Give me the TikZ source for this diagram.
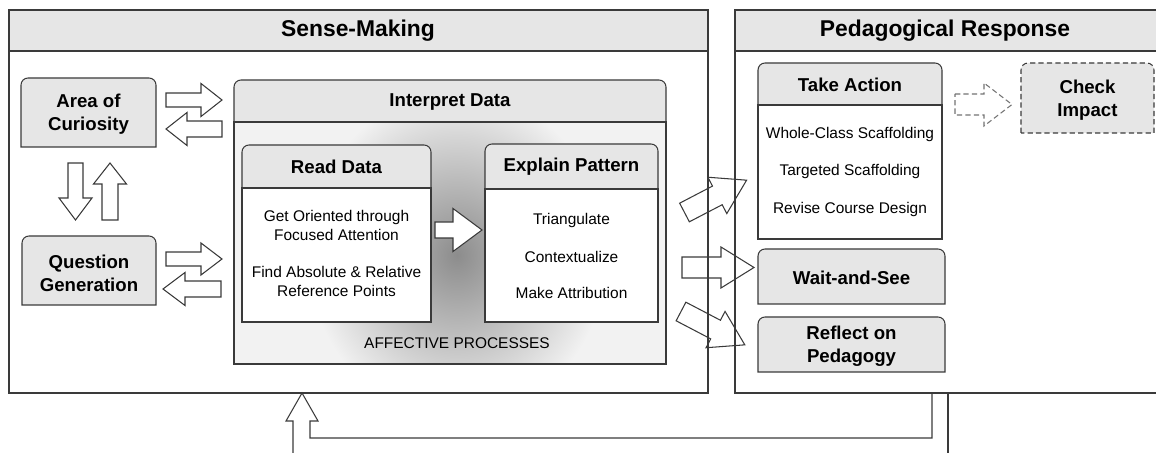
\documentclass[tikz,border=0pt]{standalone}
\usepackage{fontspec}
\setmainfont{Liberation Sans}
\usepackage{tikz}
\usetikzlibrary{calc}
\usepackage{xcolor}

\definecolor{headgray}{HTML}{E6E6E6}
\definecolor{edgegray}{HTML}{3A3A3A}

\newcommand{\blockarrow}[7][]{%
  \draw[barrow,#1,shift={#2},rotate=#3] (0,-#5) -- (#4-#7,-#5) -- (#4-#7,-#6) -- (#4,0)
    -- (#4-#7,#6) -- (#4-#7,#5) -- (0,#5) -- cycle;}
\newcommand{\roundtop}[5][]{%
  \draw[#1] (#2,#5) -- ([yshift=-4pt]#2,#3) arc[start angle=180,end angle=90,radius=4pt]
    -- ([xshift=-4pt]#4,#3) arc[start angle=90,end angle=0,radius=4pt] -- (#4,#5) -- cycle;}

\begin{document}
\begin{tikzpicture}[x=0.2mm, y=-0.2mm,
  boxline/.style={draw=edgegray, line width=0.6pt},
  barrow/.style={draw=edgegray, fill=white, line width=0.6pt},
  sect/.style={font=\fontsize{13}{15}\selectfont\bfseries},
  btitle/.style={font=\fontsize{10.6}{13}\selectfont\bfseries, align=center},
  btext/.style={font=\fontsize{8.8}{10.8}\selectfont, align=center}]
  \useasboundingbox (0,0) rectangle (1156,453);
  \clip (0,0) rectangle (1156,453);

  % the two stages
  \draw[boxline, fill=headgray] (9,10) rectangle (708,51);
  \draw[boxline] (9,51) rectangle (708,393);
  \node[sect] (sm) at (358,31) {Sense-Making};
  \draw[boxline, fill=headgray] (735,10) rectangle (1160,51);
  \draw[boxline] (735,51) rectangle (1160,393);
  \node[sect] (pr) at (945,31) {Pedagogical Response};

  % return arrow
  \draw[boxline] (932,393) -- (932,438) -- (310,438) -- (310,421) -- (318,421) -- (302,393)
    -- (286,421) -- (293,421) -- (293,460);
  \draw[boxline] (948,393) -- (948,460);

  \roundtop[boxline,fill=headgray]{21}{78}{156}{147}
  \node[btitle] (aoc) at (88.5,114) {Area of\\Curiosity};
  \roundtop[boxline,fill=headgray]{22}{236}{156}{305}
  \node[btitle] (qg) at (89,273) {Question\\Generation};

  % interpret data
  \roundtop[boxline,fill=headgray]{234}{80}{666}{122}
  \node[btitle] (id) at (450,102) {Interpret Data};
  \fill[black!5] (234,122) rectangle (666,364);
  \begin{scope}
    \clip (234,122) rectangle (666,364);
    \shade[inner color=black!45, outer color=black!5] (457,255) ellipse [x radius=150, y radius=165];
  \end{scope}
  \draw[boxline] (234,122) rectangle (666,364);
  \node[btext] (aff) at (457,343) {AFFECTIVE PROCESSES};

  \roundtop[boxline,fill=headgray]{242}{145}{431}{188}
  \draw[boxline, fill=white] (242,188) rectangle (431,322);
  \node[btitle] (rd) at (336.5,167) {Read Data};
  \node[btext] (rd1) at (336.5,225) {Get Oriented through\\Focused Attention};
  \node[btext] (rd2) at (336.5,281) {Find Absolute \& Relative\\Reference Points};

  \roundtop[boxline,fill=headgray]{485}{144}{658}{189}
  \draw[boxline, fill=white] (485,189) rectangle (658,322);
  \node[btitle] (ep) at (571.5,167) {Explain Pattern};
  \node[btext] (ep1) at (571.5,221) {Triangulate};
  \node[btext] (ep2) at (571.5,257) {Contextualize};
  \node[btext] (ep3) at (571.5,293) {Make Attribution};

  % responses
  \roundtop[boxline,fill=headgray]{758}{63}{942}{105}
  \draw[boxline, fill=white] (758,105) rectangle (942,239);
  \node[btitle] (ta) at (850,85) {Take Action};
  \node[btext] (ta1) at (850,135) {Whole-Class Scaffolding};
  \node[btext] (ta2) at (850,172) {Targeted Scaffolding};
  \node[btext] (ta3) at (850,210) {Revise Course Design};

  \roundtop[boxline,fill=headgray]{758}{249}{945}{304}
  \node[btitle] (ws) at (851.5,278) {Wait-and-See};
  \roundtop[boxline,fill=headgray]{758}{317}{945}{372}
  \node[btitle] (rp) at (851.5,346) {Reflect on\\Pedagogy};
  \roundtop[boxline,dash pattern=on 3pt off 1.8pt,fill=headgray]{1021}{63}{1154}{133}
  \node[btitle] (ci) at (1087.5,100) {Check\\Impact};

  % block arrows
  \blockarrow{(166,100)}{0}{56}{7}{16.5}{21}
  \blockarrow{(222,129)}{180}{56}{8}{16.5}{21}
  \blockarrow{(166,259)}{0}{56}{7}{16}{21}
  \blockarrow{(221,289)}{180}{58}{8}{16.5}{22}
  \blockarrow{(75.5,163)}{-90}{57}{7.5}{16.5}{22}
  \blockarrow{(110,220)}{90}{57}{8}{16.5}{21}
  \blockarrow{(435,230)}{0}{47}{8}{21.5}{29}
  \blockarrow[fill=none]{(684.5,212.5)}{27.5}{70}{10.5}{20.5}{33}
  \blockarrow[fill=none]{(682,267.5)}{0}{72}{10.5}{20.5}{33}
  \blockarrow[fill=none]{(681,311.5)}{-27.6}{72}{10.5}{20.5}{33}
  \blockarrow[draw=black!55, dash pattern=on 3pt off 1.8pt]{(955,104.5)}{0}{57}{10.5}{21.5}{28}
\end{tikzpicture}
\end{document}
